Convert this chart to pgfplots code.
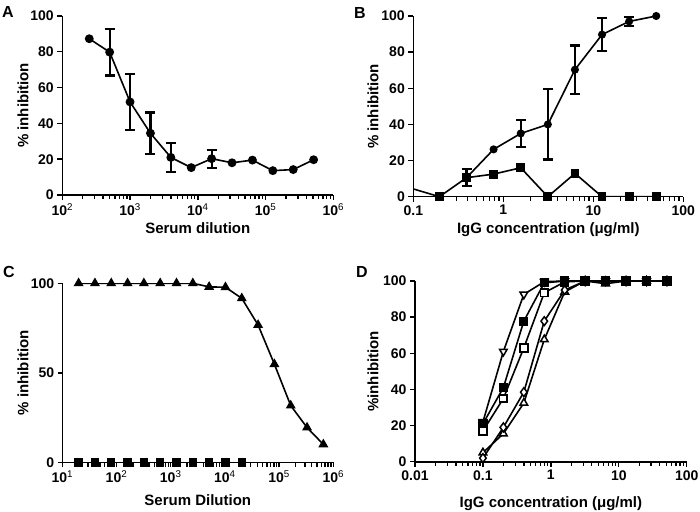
\documentclass[border=0pt]{standalone}
\usepackage{fontspec}
\setmainfont{Liberation Sans}
\usepackage{pgfplots}
\pgfplotsset{compat=1.18}
\pgfplotsset{
  mypanel/.style={
    scale only axis,
    anchor=south west,
    axis lines*=left,
    axis line style={line width=1.6pt, black},
    tick align=outside,
    major tick length=5pt,
    minor tick length=4pt,
    tick style={line width=1.4pt, black},
    ymin=0, ymax=100,
    xticklabel style={font=\fontsize{14}{16}\selectfont\bfseries},
    yticklabel style={font=\fontsize{14}{16}\selectfont\bfseries},
    every axis x label/.style={font=\fontsize{15}{17}\selectfont\bfseries, anchor=center},
    every axis y label/.style={font=\fontsize{15}{17}\selectfont\bfseries, anchor=center, rotate=90},
  },
  ln/.style={black, line width=1.6pt},
  eb/.style={forget plot, mark=none, draw=none,
    error bars/y dir=both, error bars/y explicit,
    error bars/error bar style={draw=black, line width=2.2pt, solid},
    error bars/error mark options={rotate=90, draw=black, line width=2.2pt, mark size=5pt}},
}
\begin{document}
\begin{tikzpicture}
\useasboundingbox (0pt,0pt) rectangle (700pt,511pt);
\tikzset{lab/.style={font=\fontsize{16}{18}\selectfont\bfseries, anchor=center}}
\node[lab] at (8pt,499pt) {A};
\node[lab] at (360pt,498pt) {B};
\node[lab] at (9pt,239pt) {C};
\node[lab] at (362pt,239pt) {D};

% ---------------- A ----------------
\begin{axis}[xmode=log, mypanel, at={(62.3pt,316pt)}, width=271pt, height=179pt,
  xmin=100, xmax=1000000,
  xtick={100,1000,10000,100000,1000000},
  xticklabels={10\textsuperscript{\mdseries 2},10\textsuperscript{\mdseries 3},10\textsuperscript{\mdseries 4},10\textsuperscript{\mdseries 5},10\textsuperscript{\mdseries 6}},
  minor xtick={},
  ytick={0,20,40,60,80,100}, yticklabels={0,20,40,60,80,100},
  xlabel={Serum dilution}, ylabel={\% inhibition},
  xlabel style={at={(axis description cs:0.5,-0.184)}},
  ylabel style={at={(axis description cs:-0.145,0.5)}},
]
\addplot[eb] coordinates {
 (500,79.8) +- (0,13) (1000,52) +- (0,15.5) (2000,34.5) +- (0,11.6)
 (4000,21) +- (0,8) (16000,20.3) +- (0,5)};
\addplot[ln, mark=*, mark size=3.6pt] coordinates {
 (250,87.3) (500,79.8) (1000,52) (2000,34.5) (4000,21) (8000,15.3)
 (16000,20.3) (32000,18) (64000,19.5) (128000,13.6) (256000,14.2) (512000,19.7)};
\end{axis}

% ---------------- B ----------------
\begin{axis}[xmode=log, mypanel, at={(413.3pt,314.3pt)}, width=270pt, height=180.7pt,
  xmin=0.1, xmax=100,
  xtick={0.1,1,10,100}, xticklabels={0.1,1,10,100},
  minor xtick={},
  ytick={0,20,40,60,80,100}, yticklabels={0,20,40,60,80,100},
  xlabel={IgG concentration (μg/ml)}, ylabel={\% inhibition},
  xlabel style={at={(axis description cs:0.5,-0.184)}},
  ylabel style={at={(axis description cs:-0.149,0.5)}},
]
\addplot[eb] coordinates {
 (0.39,10.5) +- (0,4.7) (1.5625,35) +- (0,7.3) (3.125,40) +- (0,19.4)
 (6.25,70.3) +- (0,13.4) (12.5,89.7) +- (0,9) (25,97) +- (0,2.5)};
\addplot[ln, no marks] coordinates {(0.1,4.3) (0.195,0)};
\addplot[ln, mark=square*, mark size=3.6pt] coordinates {
 (0.195,0) (0.39,10.5) (0.78,12.5) (1.5625,16) (3.125,0) (6.25,12.9) (12.5,0) (25,0) (50,0)};
\addplot[ln, mark=*, mark size=3.2pt] coordinates {
 (0.39,10.5) (0.78,26.2) (1.5625,35) (3.125,40) (6.25,70.3) (12.5,89.7) (25,97) (50,100)};
\end{axis}

% ---------------- C ----------------
\begin{axis}[xmode=log, mypanel, at={(62.3pt,48.7pt)}, width=271pt, height=179pt,
  xmin=10, xmax=1000000,
  xtick={10,20,30,40,50,60,70,80,90,100,200,300,400,500,600,700,800,900,1000,2000,3000,4000,5000,6000,7000,8000,9000,10000,20000,30000,40000,50000,60000,70000,80000,90000,100000,200000,300000,400000,500000,600000,700000,800000,900000,1000000},
  xticklabels={10\textsuperscript{\mdseries 1},,,,,,,,,10\textsuperscript{\mdseries 2},,,,,,,,,10\textsuperscript{\mdseries 3},,,,,,,,,10\textsuperscript{\mdseries 4},,,,,,,,,10\textsuperscript{\mdseries 5},,,,,,,,,10\textsuperscript{\mdseries 6}},
  major tick length=4.5pt,
  minor xtick={},
  ytick={0,50,100}, yticklabels={0,50,100},
  xlabel={Serum Dilution}, ylabel={\% inhibition},
  xlabel style={at={(axis description cs:0.5,-0.21)}},
  ylabel style={at={(axis description cs:-0.145,0.5)}},
]
\addplot[ln, mark=square*, mark size=3.4pt] coordinates {
 (20,0) (40,0) (80,0) (160,0) (320,0) (640,0) (1280,0) (2560,0) (5120,0) (10240,0) (20480,0)};
\addplot[ln, mark=triangle*, mark size=4.2pt] coordinates {
 (20,100) (40,100) (80,100) (160,100) (320,100) (640,100) (1280,100) (2560,100)
 (5120,98) (10240,97.8) (20480,91.6) (40960,76.7) (81920,54.8) (163840,31.7) (327680,19.4) (655360,10)};
\end{axis}

% ---------------- D ----------------
\begin{axis}[xmode=log, mypanel, at={(415pt,49.3pt)}, width=271.7pt, height=180.7pt,
  xmin=0.01, xmax=100,
  xtick={0.01,0.1,1,10,100}, xticklabels={0.01,0.1,1,10,100},
  minor xtick={},
  ytick={0,20,40,60,80,100}, yticklabels={0,20,40,60,80,100},
  xlabel={IgG concentration (μg/ml)}, ylabel={\%inhibition},
  xlabel style={at={(axis description cs:0.5,-0.23)}},
  ylabel style={at={(axis description cs:-0.155,0.5)}},
]
\addplot[ln, mark=triangle*, mark size=4.4pt, mark options={rotate=180, fill=white, line width=1.5pt}] coordinates {
 (0.1,22) (0.2,61) (0.4,92.6) (0.8,99.6) (1.6,100) (3.2,100) (6.4,100) (12.8,100) (25.6,100) (51.2,100)};
\addplot[ln, mark=triangle*, mark size=4.4pt, mark options={fill=white, line width=1.5pt}] coordinates {
 (0.1,5) (0.2,15.5) (0.4,32.5) (0.8,67.6) (1.6,94) (3.2,100) (6.4,98.5) (12.8,100) (25.6,100) (51.2,100)};
\addplot[ln, mark=diamond*, mark size=4.4pt, mark options={fill=white, line width=1.5pt}] coordinates {
 (0.1,2) (0.2,19) (0.4,38.5) (0.8,77.8) (1.6,95) (3.2,100) (6.4,100) (12.8,100) (25.6,100) (51.2,100)};
\addplot[ln, mark=square*, mark size=3.8pt, mark options={fill=white, line width=1.8pt}] coordinates {
 (0.1,17) (0.2,35) (0.4,63) (0.8,93.5) (1.6,99.5) (3.2,100) (6.4,100) (12.8,100) (25.6,100) (51.2,100)};
\addplot[ln, mark=square*, mark size=3.8pt] coordinates {
 (0.1,21) (0.2,41) (0.4,77.8) (0.8,99) (1.6,100) (3.2,100) (6.4,100) (12.8,100) (25.6,100) (51.2,100)};
\end{axis}
\end{tikzpicture}
\end{document}
